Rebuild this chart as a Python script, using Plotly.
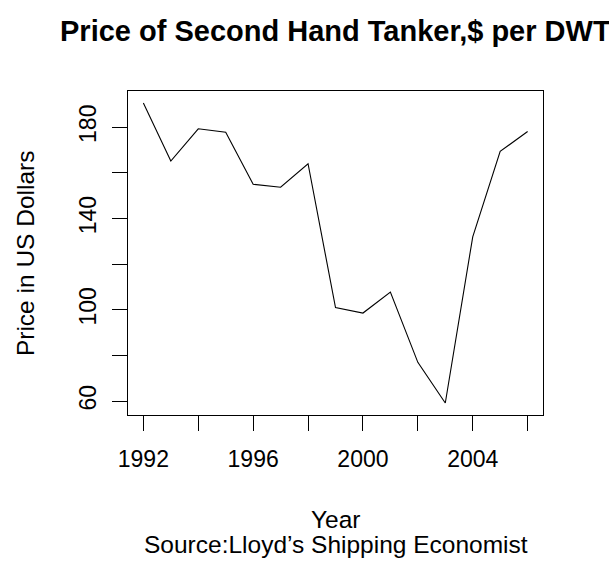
import plotly.graph_objects as go

# Second-hand tanker prices, US$ per deadweight ton
years = list(range(1992, 2007))
prices = [190.6, 165.2, 179.3, 177.8, 155.0, 153.7, 164.0, 101.0,
          98.6, 107.8, 77.0, 59.2, 132.0, 169.4, 178.1]

x_ticks = list(range(1992, 2007, 2))
x_labels = ["1992", "", "1996", "", "2000", "", "2004", ""]
y_ticks = list(range(60, 181, 20))
y_labels = ["60", "", "100", "", "140", "", "180"]

title_text = "Price of Second Hand Tanker,$ per DWT"
x_title = "Year"
source_text = "Source:Lloyd\u2019s Shipping Economist"
y_title = "Price in US Dollars"

FONT = "Liberation Sans, Arial, Helvetica, sans-serif"

# R-style 4% padding around the data
def padded(lo, hi, frac=0.04):
    d = (hi - lo) * frac
    return [lo - d, hi + d]

fig = go.Figure()
fig.add_trace(go.Scatter(
    x=years, y=prices, mode="lines",
    line=dict(color="black", width=1.1),
    showlegend=False, hoverinfo="x+y",
))

axis_common = dict(
    showgrid=False, zeroline=False,
    showline=True, mirror=True, linecolor="black", linewidth=1.2,
    ticks="outside", ticklen=15, tickwidth=1.2, tickcolor="black",
    tickfont=dict(family=FONT, size=23, color="black"),
    tickmode="array",
)

fig.update_layout(
    width=609, height=565,
    margin=dict(l=128, r=66, t=91, b=150),
    paper_bgcolor="white", plot_bgcolor="white",
    xaxis=dict(range=padded(min(years), max(years)),
               tickvals=x_ticks, ticktext=x_labels,
               ticklabelstandoff=8, **axis_common),
    yaxis=dict(range=padded(min(prices), max(prices)),
               tickvals=y_ticks, ticktext=y_labels, tickangle=-90,
               ticklabelstandoff=7, **axis_common),
    font=dict(family=FONT, color="black"),
)

# The main title is wider than the page and runs off its right edge
fig.add_annotation(text="<b>" + title_text + "</b>", xref="paper", yref="paper",
                   x=0.5, y=1.185, xanchor="center", yanchor="middle",
                   showarrow=False, font=dict(family=FONT, size=29, color="black"))
fig.add_annotation(text=x_title, xref="paper", yref="paper",
                   x=0.5, y=-0.324, xanchor="center", yanchor="middle",
                   showarrow=False, font=dict(family=FONT, size=24.5, color="black"))
fig.add_annotation(text=source_text, xref="paper", yref="paper",
                   x=0.5, y=-0.401, xanchor="center", yanchor="middle",
                   showarrow=False, font=dict(family=FONT, size=24.5, color="black"))
fig.add_annotation(text=y_title, xref="paper", yref="paper",
                   x=-0.248, y=0.5, xanchor="center", yanchor="middle",
                   textangle=-90,
                   showarrow=False, font=dict(family=FONT, size=24.5, color="black"))

fig.write_html("out.html")
